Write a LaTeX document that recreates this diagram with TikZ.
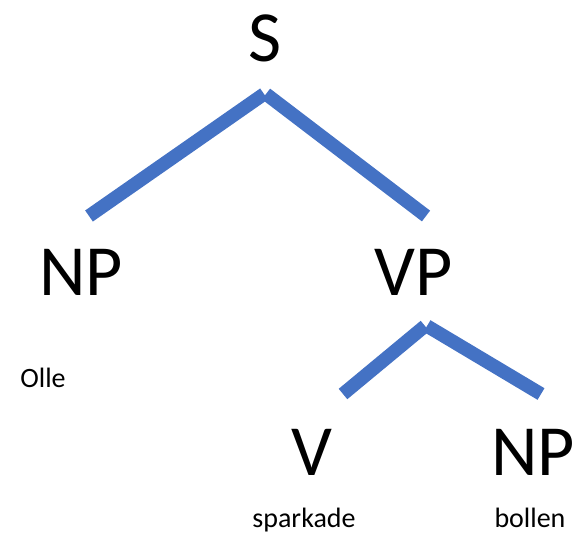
\documentclass[tikz,border=0pt]{standalone}
\usepackage{fontspec}
\setmainfont{Carlito}
\definecolor{branchblue}{RGB}{68,114,196}

\begin{document}
\begin{tikzpicture}[x=1pt,y=-1pt,big node/.style={anchor=base,inner sep=0pt,font=\fontsize{72}{80}\selectfont},word node/.style={anchor=base,inner sep=0pt,font=\fontsize{28}{32}\selectfont},branch/.style={draw=branchblue,line width=13.5pt}]

	%page frame
	\useasboundingbox (0,0) rectangle (577,539);

	%categories
	\node[big node] (S) at (265,61) {S};
	\node[big node] (NP1) at (81,295) {NP};
	\node[big node] (VP) at (414,295) {VP};
	\node[big node] (V) at (312,475) {V};
	\node[big node] (NP2) at (533,475) {NP};

	%words
	\node[word node] (olle) at (43,387) {Olle};
	\node[word node] (sparkade) at (304,527) {sparkade};
	\node[word node] (bollen) at (530,527) {bollen};

	%branch ends
	\coordinate (s1) at (264,94);
	\coordinate (s2) at (266,94);
	\coordinate (np1) at (89,216);
	\coordinate (vp1) at (426,216);
	\coordinate (vp2) at (425,326);
	\coordinate (vp3) at (427,326);
	\coordinate (v1) at (343,394);
	\coordinate (np2) at (541,394);

	%branches
	\draw[branch] (s1) -- (np1);
	\draw[branch] (s2) -- (vp1);
	\draw[branch] (vp2) -- (v1);
	\draw[branch] (vp3) -- (np2);

\end{tikzpicture}
\end{document}
